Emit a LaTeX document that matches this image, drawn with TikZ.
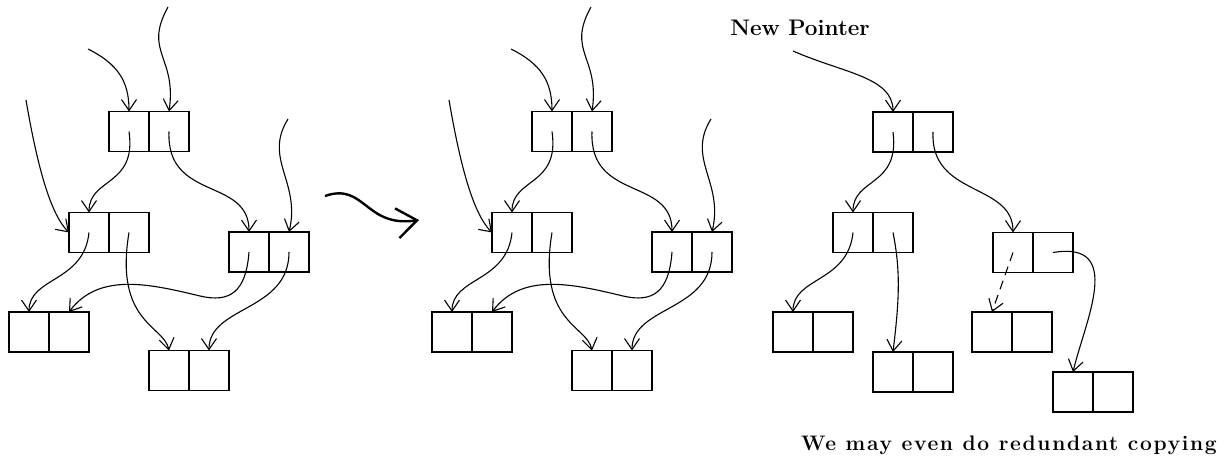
\documentclass[tikz,border=0pt]{standalone}
\usepackage{fontspec}
\newfontfamily\capfont{Latin Modern Roman}[LetterSpace=8]
\usetikzlibrary{positioning,arrows.meta}
\tikzset{
  cell/.style={draw,line width=1.3pt,minimum width=40pt,minimum height=40pt,inner sep=0pt,outer sep=0pt},
  ptr/.style={line width=1.1pt,-{Straight Barb[length=11pt,width=15pt,line width=1.1pt]}}
}
\begin{document}
\begin{tikzpicture}[x=1pt,y=-1pt]
  \useasboundingbox (0,0) rectangle (1230,466);
  % the heap, drawn twice (before and during the copy)
  \foreach \p/\dx in {l/0,m/423}{
    \begin{scope}[xshift=\dx pt]
      \foreach \n/\x/\y in {a/129/131.5,b/89/232.5,c/249/252,d/29/332,e/169/370.5}{
        \node[cell] (\p\n1) at (\x,\y) {};
        \node[cell,right=0pt of \p\n1] (\p\n2) {};
      }
      \coordinate (\p t1) at (88,49);
      \coordinate (\p t2) at (168,7);
      \coordinate (\p t3) at (26,100);
      \coordinate (\p t4) at (288,119);
      \draw[ptr] (\p t1) .. controls +(30,15) and +(0,-30) .. (\p a1.north);
      \draw[ptr] (\p t2) .. controls +(-25,45) and +(8,-55) .. (\p a2.north);
      \draw[ptr] (\p t3) .. controls +(12,70) and +(-18,-18) .. (\p b1.west);
      \draw[ptr] (\p t4) .. controls +(-25,40) and +(12,-50) .. (\p c2.north);
      \draw[ptr] (\p a1.center) .. controls +(8,55) and +(0,-35) .. (\p b1.north);
      \draw[ptr] (\p a2.center) .. controls +(-3,70) and +(0,-55) .. (\p c1.north);
      \draw[ptr] (\p b1.center) .. controls +(-5,50) and +(0,-35) .. (\p d1.north);
      \draw[ptr] (\p b2.center) .. controls +(-15,90) and +(-5,-25) .. (\p e1.north);
      \draw[ptr] (\p c1.center) .. controls +(-3,40) and +(30,7) .. (200,296)
                 .. controls +(-50,-12) and +(30,-40) .. (\p d2.north);
      \draw[ptr] (\p c2.center) .. controls +(0,60) and +(0,-45) .. (\p e2.north);
    \end{scope}
  }
  % the wavy arrow between the two heaps
  \coordinate (w1) at (325,196);
  \coordinate (w2) at (419,220);
  \draw[line width=2.4pt,-{Straight Barb[length=20pt,width=30pt,line width=2.4pt]}]
    (w1) .. controls (365,182) and (365,228) .. (w2);
  % the copy
  \foreach \n/\x/\y in {a/893/132,b/853/232.5,c/1013/252.5,d/793/332,e/893/372,f/992/332,g/1073/392}{
    \node[cell] (r\n1) at (\x,\y) {};
    \node[cell,right=0pt of r\n1] (r\n2) {};
  }
  \node[font=\fontsize{22.5}{26}\selectfont\bfseries] (np) at (800,28) {New Pointer};
  \coordinate (np tail) at (793,51);
  \draw[ptr] (np tail) .. controls +(50,22) and +(0,-35) .. (ra1.north);
  \draw[ptr] (ra1.center) .. controls +(7,55) and +(0,-35) .. (rb1.north);
  \draw[ptr] (ra2.center) .. controls +(-3,65) and +(0,-50) .. (rc1.north);
  \draw[ptr] (rb1.center) .. controls +(-5,50) and +(0,-35) .. (rd1.north);
  \draw[ptr] (rb2.center) .. controls +(8,40) and +(6,-50) .. (re1.north);
  \draw[ptr,dash pattern=on 9pt off 6pt] (rc1.center) -- (rf1.north);
  \draw[ptr] (rc2.center) .. controls +(72,-12) and +(12,-51) .. (rg1.north);
  \node[font=\capfont\bfseries\fontsize{21}{24}\selectfont] (cap) at (1009,445) {We may even do redundant copying};
\end{tikzpicture}
\end{document}
